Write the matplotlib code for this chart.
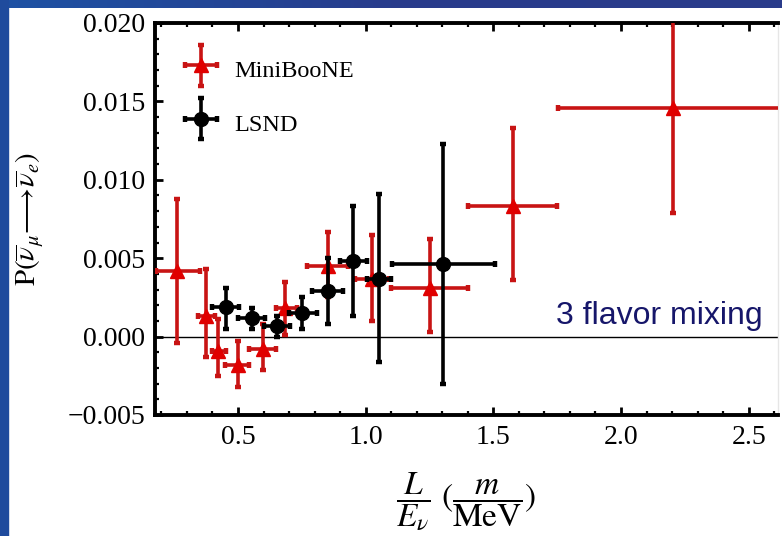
import numpy as np
import matplotlib
matplotlib.use('Agg')
import matplotlib.pyplot as plt
from matplotlib.container import ErrorbarContainer
from matplotlib.legend_handler import HandlerErrorbar
from matplotlib.ticker import MultipleLocator, FormatStrFormatter

################################################################################
# Data (L/E in m/MeV, oscillation probability)
mb_x = [0.26, 0.375, 0.422, 0.50, 0.598, 0.684, 0.852, 1.024, 1.251, 1.576, 2.203]
mb_y = [0.0042, 0.0013, -0.0009, -0.0018, -0.0008, 0.0018, 0.0045, 0.0037, 0.0031, 0.0083, 0.0146]
mb_x_lo = [0.18, 0.345, 0.40, 0.45, 0.545, 0.65, 0.77, 0.96, 1.10, 1.40, 1.755]
mb_x_hi = [0.35, 0.41, 0.455, 0.545, 0.65, 0.73, 0.93, 1.09, 1.40, 1.75, 2.65]
mb_y_lo = [-0.0004, -0.0013, -0.0025, -0.0032, -0.0021, 0.0001, 0.0025, 0.0010, 0.0003, 0.0036, 0.0079]
mb_y_hi = [0.0088, 0.0043, 0.0011, -0.0003, 0.0008, 0.0035, 0.0067, 0.0065, 0.0062, 0.0133, 0.0215]

lsnd_x = [0.453, 0.555, 0.653, 0.75, 0.852, 0.95, 1.052, 1.302]
lsnd_y = [0.0019, 0.0012, 0.0007, 0.0015, 0.0029, 0.0048, 0.0037, 0.0046]
lsnd_x_lo = [0.40, 0.50, 0.60, 0.70, 0.79, 0.90, 1.005, 1.105]
lsnd_x_hi = [0.505, 0.605, 0.705, 0.81, 0.91, 1.005, 1.10, 1.505]
lsnd_y_lo = [0.0005, 0.0005, 0.0000, 0.0005, 0.0008, 0.0013, -0.0016, -0.0030]
lsnd_y_hi = [0.0031, 0.0018, 0.0013, 0.0025, 0.0050, 0.0083, 0.0091, 0.0123]

labels = ['MiniBooNE', 'LSND']
note = '3 flavor mixing'


def err(c, lo, hi):
    """ Asymmetric error array from bin edges. """
    c, lo, hi = np.array(c), np.array(lo), np.array(hi)
    return np.vstack((c - lo, hi - c))


################################################################################
# Plot
plt.rcParams['font.family'] = ['Liberation Serif', 'DejaVu Serif']
plt.rcParams['mathtext.fontset'] = 'stix'

W, H = 782, 536
fig = plt.figure(figsize=(W / 100, H / 100), dpi=100, facecolor='white')

# slide background: blue strip left and top
fig.patches.append(plt.Rectangle((0, 0), 8 / W, 1, transform=fig.transFigure,
                                  color='#1f4b9d', zorder=0))
ax_bg = fig.add_axes([0, 1 - 8 / H, 1, 8 / H])
grad = np.linspace(0, 1, 256)[None, :]
cmap = matplotlib.colors.LinearSegmentedColormap.from_list('slide', ['#1e52a4', '#283c8c', '#2a3b8a'])
ax_bg.imshow(grad, aspect='auto', cmap=cmap)
ax_bg.set_axis_off()

ax = fig.add_axes([155 / W, (H - 415) / H, (778 - 155) / W, (415 - 23) / H])

ax.axhline(0, color='black', lw=1.0, zorder=1)

red_bars = ax.errorbar(mb_x, mb_y, xerr=err(mb_x, mb_x_lo, mb_x_hi), yerr=err(mb_y, mb_y_lo, mb_y_hi),
                       fmt='^', color='#e00000', ecolor='#c81414', ms=10, elinewidth=2.6,
                       capsize=2.5, capthick=3.2, zorder=3, label=labels[0])
black_bars = ax.errorbar(lsnd_x, lsnd_y, xerr=err(lsnd_x, lsnd_x_lo, lsnd_x_hi),
                         yerr=err(lsnd_y, lsnd_y_lo, lsnd_y_hi),
                         fmt='o', color='black', ecolor='black', ms=10, elinewidth=2.6,
                         capsize=2.5, capthick=3.2, zorder=4, label=labels[1])

ax.text(2.555, 0.00083, note, ha='right', va='baseline', color='#16166a',
        fontsize=23, family='Liberation Sans')

ax.set_xlim(0.175, 2.615)
ax.set_ylim(-0.005, 0.020)
ax.xaxis.set_major_locator(MultipleLocator(0.5))
ax.xaxis.set_minor_locator(MultipleLocator(0.1))
ax.yaxis.set_major_locator(MultipleLocator(0.005))
ax.yaxis.set_minor_locator(MultipleLocator(0.001))
ax.xaxis.set_major_formatter(FormatStrFormatter('%.1f'))
ax.yaxis.set_major_formatter(plt.FuncFormatter(lambda v, p: ('%.3f' % v).replace('-', '\u2212')))

ax.tick_params(which='both', direction='in', top=True, right=False, labelsize=20, width=2)
ax.tick_params(which='major', length=6, pad=7)
ax.tick_params(which='minor', length=3, width=1.6)
for side in ['left', 'bottom', 'top']:
    ax.spines[side].set_linewidth(2.8)
ax.spines['right'].set_color('#e6e6e6')
ax.spines['right'].set_linewidth(1)

ax.set_ylabel(r'$\mathrm{P}(\overline{\nu}_{\mu}\!\longrightarrow\!\overline{\nu}_{e})$', fontsize=21, labelpad=16)
ax.set_xlabel(r'$\dfrac{L}{E_\nu}\ (\dfrac{m}{\mathrm{MeV}})$', fontsize=24, labelpad=15)

hmap = {ErrorbarContainer: HandlerErrorbar(xerr_size=0.66, yerr_size=0.85, numpoints=1)}
ax.legend(handles=[red_bars, black_bars], loc='upper left', bbox_to_anchor=(0.0, 0.985),
          frameon=False, fontsize=17.5, handler_map=hmap, handlelength=1.8, handleheight=1.7,
          labelspacing=0.85, handletextpad=0.45, borderaxespad=0.6)

fig.savefig('out.png', dpi=100, facecolor='white')
